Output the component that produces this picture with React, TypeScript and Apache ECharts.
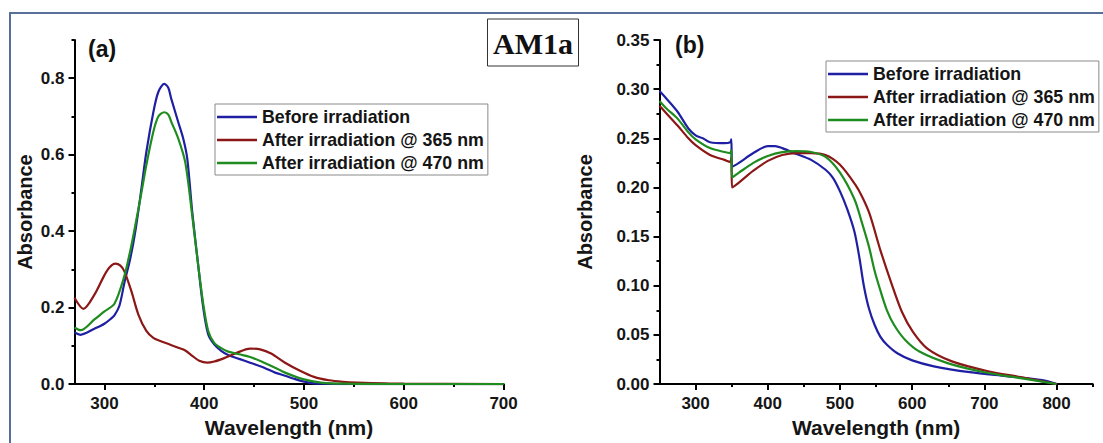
import React, { useEffect, useRef } from "react";
import * as echarts from "echarts";

const seriesNames = ["Before irradiation", "After irradiation @ 365 nm", "After irradiation @ 470 nm"];
const seriesColors = ["#1f1fa3", "#8c1717", "#1f8c1f"];

// ---- Panel (a) ----
const aBeforeWl = [270, 276, 290, 300, 306, 310, 315, 320, 326, 331, 337, 342, 349, 354, 360, 364, 367, 374, 379, 383, 388, 394, 399, 404, 410, 417, 424, 435, 446, 460, 471, 481, 490, 499, 510, 525, 550, 600, 650, 700];
const aBeforeAbs = [0.135, 0.129, 0.145, 0.158, 0.17, 0.18, 0.205, 0.265, 0.33, 0.4, 0.51, 0.607, 0.711, 0.764, 0.785, 0.775, 0.746, 0.685, 0.642, 0.59, 0.45, 0.31, 0.2, 0.13, 0.104, 0.087, 0.076, 0.066, 0.056, 0.043, 0.03, 0.022, 0.014, 0.007, 0.002, 0.001, 0, 0, 0, 0];

const a365Wl = [270, 279, 290, 300, 305, 311, 316, 320, 327, 334, 342, 349, 356, 363, 374, 381, 388, 395, 403, 410, 420, 431, 446, 456, 467, 481, 496, 510, 525, 539, 553, 600, 700];
const a365Abs = [0.226, 0.197, 0.234, 0.285, 0.305, 0.315, 0.31, 0.295, 0.243, 0.182, 0.139, 0.121, 0.113, 0.106, 0.095, 0.088, 0.074, 0.061, 0.056, 0.059, 0.068, 0.08, 0.093, 0.091, 0.08, 0.056, 0.035, 0.019, 0.01, 0.006, 0.004, 0.001, 0];

const a470Wl = [270, 276, 290, 300, 310, 320, 326, 331, 337, 342, 349, 354, 360, 364, 367, 374, 381, 388, 394, 399, 404, 410, 417, 424, 435, 446, 460, 471, 481, 499, 517, 540, 600, 700];
const a470Abs = [0.148, 0.141, 0.169, 0.19, 0.21, 0.283, 0.35, 0.416, 0.5, 0.573, 0.66, 0.7, 0.711, 0.705, 0.686, 0.642, 0.58, 0.44, 0.31, 0.21, 0.139, 0.108, 0.094, 0.085, 0.078, 0.071, 0.056, 0.043, 0.03, 0.013, 0.004, 0.001, 0, 0];

const aXTicks = [300, 400, 500, 600, 700];
const aXMinor = [350, 450, 550, 650];
const aYTicks = [0, 0.2, 0.4, 0.6, 0.8];
const aYMinor = [0.1, 0.3, 0.5, 0.7, 0.9];

// ---- Panel (b) ----
const bBeforeWl = [250, 260, 275, 290, 300, 310, 320, 340, 348, 349.5, 350.5, 360, 380, 400, 410, 420, 440, 460, 480, 490, 500, 510, 520, 527, 533, 540, 548, 556, 565, 580, 600, 630, 680, 730, 780, 800];
const bBeforeAbs = [0.298, 0.29, 0.277, 0.26, 0.253, 0.25, 0.246, 0.245, 0.246, 0.249, 0.221, 0.225, 0.235, 0.242, 0.242, 0.24, 0.234, 0.228, 0.218, 0.21, 0.196, 0.178, 0.155, 0.128, 0.1, 0.077, 0.06, 0.048, 0.04, 0.031, 0.024, 0.018, 0.012, 0.008, 0.004, 0];

const b365Wl = [250, 260, 275, 290, 300, 320, 340, 348, 349.5, 350.5, 360, 380, 400, 420, 440, 460, 480, 500, 521, 531, 541, 556, 571, 586, 601, 621, 655, 705, 750, 800];
const b365Abs = [0.283, 0.275, 0.263, 0.25, 0.243, 0.233, 0.228, 0.226, 0.23, 0.2, 0.205, 0.217, 0.227, 0.233, 0.235, 0.235, 0.233, 0.223, 0.203, 0.19, 0.173, 0.136, 0.103, 0.073, 0.053, 0.036, 0.023, 0.013, 0.007, 0];

const b470Wl = [250, 260, 275, 290, 300, 320, 340, 348, 349.5, 350.5, 360, 380, 400, 420, 440, 460, 480, 500, 520, 530, 540, 548, 556, 565, 575, 590, 610, 650, 700, 750, 800];
const b470Abs = [0.288, 0.28, 0.27, 0.256, 0.249, 0.24, 0.236, 0.235, 0.238, 0.21, 0.215, 0.225, 0.232, 0.236, 0.237, 0.236, 0.231, 0.215, 0.188, 0.165, 0.14, 0.115, 0.095, 0.075, 0.06, 0.045, 0.033, 0.021, 0.012, 0.006, 0];

const bXTicks = [300, 400, 500, 600, 700, 800];
const bXMinor = [350, 450, 550, 650, 750, 850];
const bYTicks = [0, 0.05, 0.1, 0.15, 0.2, 0.25, 0.3, 0.35];
const bYMinor = [0.025, 0.075, 0.125, 0.175, 0.225, 0.275, 0.325];

const FONT = "'Liberation Sans', Arial, sans-serif";

function pairs(xs: number[], ys: number[]) {
  return xs.map((x, i) => [x, ys[i]]);
}

function mainX(grid: number, min: number, max: number, ticks: number[], gap: number) {
  return {
    type: "value", gridIndex: grid, min, max, position: "bottom",
    axisLine: { show: true, onZero: false, lineStyle: { color: "#000", width: 2 } },
    axisTick: { show: true, length: 6, lineStyle: { color: "#000", width: 2 }, customValues: ticks },
    axisLabel: { customValues: ticks, margin: 11, fontSize: 17, fontWeight: "bold", color: "#151515", fontFamily: FONT },
    splitLine: { show: false },
    name: "Wavelength (nm)", nameLocation: "middle", nameGap: gap,
    nameTextStyle: { fontSize: 21, fontWeight: "bold", color: "#151515", fontFamily: FONT },
  };
}
function minorX(grid: number, min: number, max: number, ticks: number[]) {
  return {
    type: "value", gridIndex: grid, min, max, position: "bottom",
    axisLine: { show: false, onZero: false },
    axisTick: { show: true, length: 3, lineStyle: { color: "#000", width: 2 }, customValues: ticks },
    axisLabel: { show: false }, splitLine: { show: false },
  };
}
function mainY(grid: number, min: number, max: number, ticks: number[], digits: number, gap: number) {
  return {
    type: "value", gridIndex: grid, min, max, position: "left",
    axisLine: { show: true, onZero: false, lineStyle: { color: "#000", width: 2 } },
    axisTick: { show: true, length: 6, lineStyle: { color: "#000", width: 2 }, customValues: ticks },
    axisLabel: {
      customValues: ticks, margin: 10, fontSize: 17, fontWeight: "bold", color: "#151515", fontFamily: FONT,
      formatter: (v: number) => v.toFixed(digits),
    },
    splitLine: { show: false },
    name: "Absorbance", nameLocation: "middle", nameGap: gap,
    nameTextStyle: { fontSize: 20, fontWeight: "bold", color: "#151515", fontFamily: FONT },
  };
}
function minorY(grid: number, min: number, max: number, ticks: number[]) {
  return {
    type: "value", gridIndex: grid, min, max, position: "left",
    axisLine: { show: false, onZero: false },
    axisTick: { show: true, length: 3, lineStyle: { color: "#000", width: 2 }, customValues: ticks },
    axisLabel: { show: false }, splitLine: { show: false },
  };
}

function legend(left: number, top: number) {
  return {
    left, top, orient: "vertical", data: seriesNames,
    icon: "rect", itemWidth: 40, itemHeight: 2.5, itemGap: 3,
    padding: [3, 4, 2, 2], borderColor: "#8a8a8a", borderWidth: 1, backgroundColor: "#fff",
    selectedMode: false,
    textStyle: { fontSize: 17.8, fontWeight: "bold", color: "#151515", fontFamily: FONT, lineHeight: 20 },
  };
}

function line(name: string, color: string, xi: number, data: number[][]) {
  return {
    type: "line", name, xAxisIndex: xi, yAxisIndex: xi, data,
    symbol: "none", showSymbol: false, smooth: 0.3,
    lineStyle: { color, width: 2.2 }, itemStyle: { color },
    z: 3,
  };
}

export default function App() {
  const ref = useRef<HTMLDivElement>(null);
  useEffect(() => {
    if (!ref.current) return;
    const chart = echarts.init(ref.current, null, { renderer: "svg" });
    chart.setOption({
      animation: false,
      backgroundColor: "#ffffff",
      grid: [
        { left: 74.5, right: 599.4, top: 40, bottom: 56.3 },
        { left: 659.5, right: 10.3, top: 40, bottom: 53 },
      ],
      xAxis: [
        mainX(0, 270, 700, aXTicks, 31),
        minorX(0, 270, 700, aXMinor),
        mainX(1, 250, 850, bXTicks, 33),
        minorX(1, 250, 850, bXMinor),
      ],
      yAxis: [
        mainY(0, 0, 0.9, aYTicks, 1, 40),
        minorY(0, 0, 0.9, aYMinor),
        mainY(1, 0, 0.35, bYTicks, 2, 65),
        minorY(1, 0, 0.35, bYMinor),
      ],
      legend: [legend(215, 104), legend(826, 61)],
      series: [
        line(seriesNames[0], seriesColors[0], 0, pairs(aBeforeWl, aBeforeAbs)),
        line(seriesNames[1], seriesColors[1], 0, pairs(a365Wl, a365Abs)),
        line(seriesNames[2], seriesColors[2], 0, pairs(a470Wl, a470Abs)),
        line(seriesNames[0], seriesColors[0], 2, pairs(bBeforeWl, bBeforeAbs)),
        line(seriesNames[1], seriesColors[1], 2, pairs(b365Wl, b365Abs)),
        line(seriesNames[2], seriesColors[2], 2, pairs(b470Wl, b470Abs)),
      ],
      graphic: [
        { type: "rect", silent: true, z: -10, shape: { x: 10, y: 13, width: 1200, height: 600 }, style: { fill: "none", stroke: "#56709a", lineWidth: 2 } },
        { type: "rect", shape: { x: 487.5, y: 19, width: 91, height: 47 }, style: { fill: "#fff", stroke: "#333", lineWidth: 1 } },
        { type: "text", x: 533, y: 43, style: { text: "AM1a", font: "bold 30px 'Liberation Serif', 'Times New Roman', serif", fill: "#111", align: "center", verticalAlign: "middle" } },
        { type: "text", x: 88, y: 49, style: { text: "(a)", font: "bold 23px 'Liberation Sans', Arial, sans-serif", fill: "#111", align: "left", verticalAlign: "middle" } },
        { type: "text", x: 675, y: 45, style: { text: "(b)", font: "bold 23px 'Liberation Sans', Arial, sans-serif", fill: "#111", align: "left", verticalAlign: "middle" } },
      ],
    });
    return () => chart.dispose();
  }, []);
  return <div ref={ref} style={{ position: "fixed", left: 0, top: 0, width: 1103, height: 443, background: "#fff" }} />;
}
